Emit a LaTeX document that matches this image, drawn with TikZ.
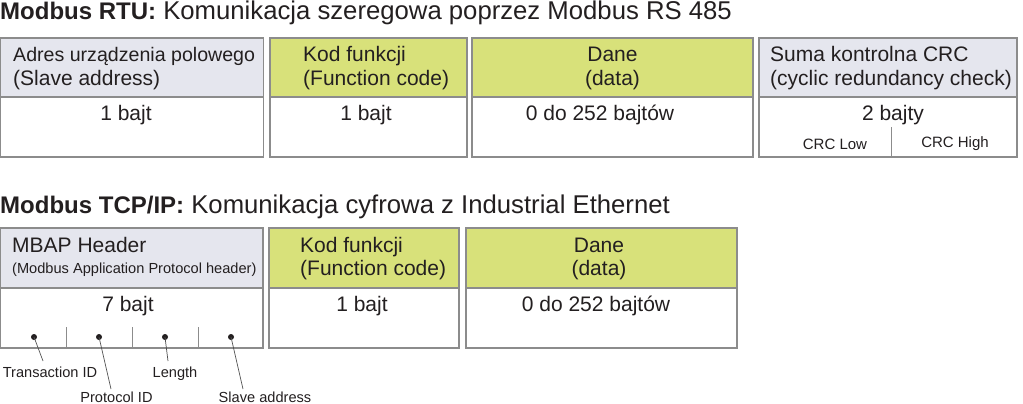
\documentclass[tikz,border=0pt]{standalone}
\usepackage{fontspec}
\setmainfont{Liberation Sans}
\definecolor{txt}{RGB}{35,31,32}
\definecolor{bord}{RGB}{140,140,140}
\definecolor{hgray}{RGB}{229,230,238}
\definecolor{hgreen}{RGB}{216,225,122}
\definecolor{pline}{RGB}{80,80,80}
\newcommand{\regpart}[1]{{\fontsize{25.7}{28}\selectfont #1}}
\tikzset{
  boxcell/.style={draw=bord, line width=1.2pt, inner sep=0pt, outer sep=0pt, anchor=north west},
  graycell/.style={boxcell, fill=hgray},
  greencell/.style={boxcell, fill=hgreen},
  bodycell/.style={boxcell, fill=white},
  titletext/.style={anchor=base west, inner sep=0pt, text=txt, font=\fontsize{24}{28}\selectfont},
  hdrtext/.style={anchor=base west, inner sep=0pt, text=txt, font=\fontsize{21}{24}\selectfont},
  hdrctext/.style={anchor=base, inner sep=0pt, text=txt, font=\fontsize{21}{24}\selectfont},
  smalltext/.style={anchor=base, inner sep=0pt, text=txt, font=\fontsize{14.6}{17}\selectfont},
  pdot/.style={circle, fill=txt, inner sep=0pt, minimum size=6pt},
  pointer/.style={draw=pline, line width=0.7pt},
  tick/.style={draw=bord, line width=0.8pt}
}
\begin{document}
\begin{tikzpicture}[x=1pt, y=-1pt]
\useasboundingbox (0,0) rectangle (1023,404);
% ---------- Row 1 ----------
\node[titletext] (t1) at (0,20) {\textbf{Modbus RTU:}\regpart{ Komunikacja szeregowa poprzez Modbus RS 485}};
% box A
\node[graycell, minimum width=263pt, minimum height=59pt] (ah) at (0.6,38) {};
\node[bodycell, minimum width=263pt, minimum height=60pt] (ab) at (0.6,97) {};
% box B
\node[greencell, minimum width=197pt, minimum height=59pt] (bh) at (270,38) {};
\node[bodycell, minimum width=197pt, minimum height=60pt] (bb) at (270,97) {};
% box C
\node[greencell, minimum width=281pt, minimum height=59pt] (ch) at (472,38) {};
\node[bodycell, minimum width=281pt, minimum height=60pt] (cb) at (472,97) {};
% box D
\node[graycell, minimum width=258pt, minimum height=59pt] (dh) at (759,38) {};
\node[bodycell, minimum width=258pt, minimum height=60pt] (db) at (759,97) {};
% header texts
\node[hdrtext, font=\fontsize{19.6}{24}\selectfont] (a1) at (13,62) {Adres urządzenia polowego};
\node[hdrtext] (a2) at (13,85) {(Slave address)};
\node[hdrtext] (b1) at (303,62) {Kod funkcji};
\node[hdrtext] (b2) at (303,85) {(Function code)};
\node[hdrctext] (c1) at (612.5,62) {Dane};
\node[hdrctext] (c2) at (612.5,85) {(data)};
\node[hdrtext] (d1) at (770,62) {Suma kontrolna CRC};
\node[hdrtext] (d2) at (770,85) {(cyclic redundancy check)};
% body texts
\node[hdrctext] (a3) at (126,120) {1 bajt};
\node[hdrctext] (b3) at (366,120) {1 bajt};
\node[hdrctext] (c3) at (600,120) {0 do 252 bajtów};
\node[hdrctext] (d3) at (893,120) {2 bajty};
% CRC split
\coordinate (crcTop) at (891,127);
\coordinate (crcBot) at (891,157);
\draw[tick] (crcTop) -- (crcBot);
\node[smalltext, font=\fontsize{15}{17}\selectfont] (crcl) at (835,149) {CRC Low};
\node[smalltext, font=\fontsize{15}{17}\selectfont] (crch) at (955,147) {CRC High};
% ---------- Row 2 ----------
\node[titletext] (t2) at (0,213) {\textbf{Modbus TCP/IP:}\regpart{ Komunikacja cyfrowa z Industrial Ethernet}};
% box E
\node[graycell, minimum width=262.4pt, minimum height=60pt] (eh) at (0.6,228) {};
\node[bodycell, minimum width=262.4pt, minimum height=60pt] (eb) at (0.6,288) {};
% box F
\node[greencell, minimum width=190pt, minimum height=60pt] (fh) at (269,228) {};
\node[bodycell, minimum width=190pt, minimum height=60pt] (fb) at (269,288) {};
% box G
\node[greencell, minimum width=271pt, minimum height=60pt] (gh) at (466,228) {};
\node[bodycell, minimum width=271pt, minimum height=60pt] (gb) at (466,288) {};
% header texts
\node[hdrtext] (e1) at (12,252) {MBAP Header};
\node[anchor=base west, inner sep=0pt, text=txt, font=\fontsize{14.6}{17}\selectfont] (e2) at (12,273) {(Modbus Application Protocol header)};
\node[hdrtext] (f1) at (300,252) {Kod funkcji};
\node[hdrtext] (f2) at (300,275) {(Function code)};
\node[hdrctext] (g1) at (599,252) {Dane};
\node[hdrctext] (g2) at (599,275) {(data)};
% body texts
\node[hdrctext] (e3) at (128,311) {7 bajt};
\node[hdrctext] (f3) at (362,311) {1 bajt};
\node[hdrctext] (g3) at (596,311) {0 do 252 bajtów};
% MBAP subdivisions
\coordinate (k1t) at (66,327); \coordinate (k1b) at (66,348);
\coordinate (k2t) at (132,327); \coordinate (k2b) at (132,348);
\coordinate (k3t) at (198,327); \coordinate (k3b) at (198,348);
\draw[tick] (k1t) -- (k1b);
\draw[tick] (k2t) -- (k2b);
\draw[tick] (k3t) -- (k3b);
% dots
\node[pdot] (p1) at (34,337) {};
\node[pdot] (p2) at (99,337) {};
\node[pdot] (p3) at (165,337) {};
\node[pdot] (p4) at (231,337) {};
% labels
\node[smalltext] (l1) at (50,377) {Transaction ID};
\node[smalltext] (l3) at (175,377) {Length};
\node[smalltext] (l2) at (116.5,402) {Protocol ID};
\node[smalltext] (l4) at (265,402) {Slave address};
\coordinate (e1p) at (43,361);
\coordinate (e2p) at (111,389);
\coordinate (e3p) at (168,361);
\coordinate (e4p) at (243,389);
\draw[pointer] (p1.center) -- (e1p);
\draw[pointer] (p2.center) -- (e2p);
\draw[pointer] (p3.center) -- (e3p);
\draw[pointer] (p4.center) -- (e4p);
\end{tikzpicture}
\end{document}
